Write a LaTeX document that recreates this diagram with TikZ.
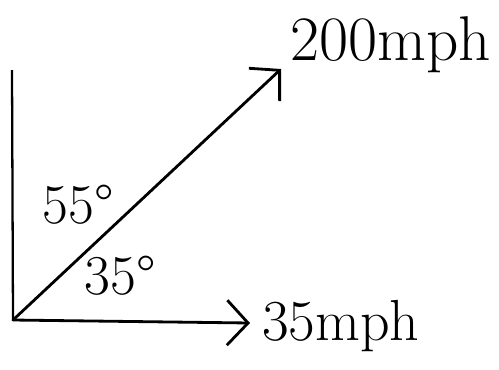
\documentclass[tikz,border=0pt]{standalone}
\usepackage{tikz}
\usetikzlibrary{arrows.meta,positioning}

\tikzset{
  vetor/.style={line width=1.6pt,line cap=round,
    -{Straight Barb[length=0.42cm,width=0.9cm,line width=1.6pt]}},
  rotulo/.style={inner sep=0pt,font=\fontsize{36}{40}\selectfont},
  rotulob/.style={inner sep=0pt,font=\fontsize{33}{36}\selectfont},
  angulo/.style={inner sep=0pt,font=\fontsize{32}{34}\selectfont}
}

\begin{document}
\begin{tikzpicture}[x=0.02cm,y=-0.02cm]
        \useasboundingbox (0,0) rectangle (499,369);
        % Pontos
        \coordinate (O) at (13,320);
        \coordinate (topo) at (12,70);
        \coordinate (p200) at (281,69);
        \coordinate (p35) at (250,323);
        % Eixo vertical
        \draw[line width=1.3pt](O)--(topo);
        % Vetores
        \draw[vetor](O)--(p200);
        \draw[vetor](O)--(p35);
        % Velocidades
        \node[rotulo,anchor=west] (v200) at (290,45){200mph};
        \node[rotulob,anchor=west] (v35) at (262,326){35mph};
        % Angulos
        \node[angulo] (a55) at (78,205){55°};
        \node[angulo] (a35) at (120,276){35°};
      \end{tikzpicture}
\end{document}
